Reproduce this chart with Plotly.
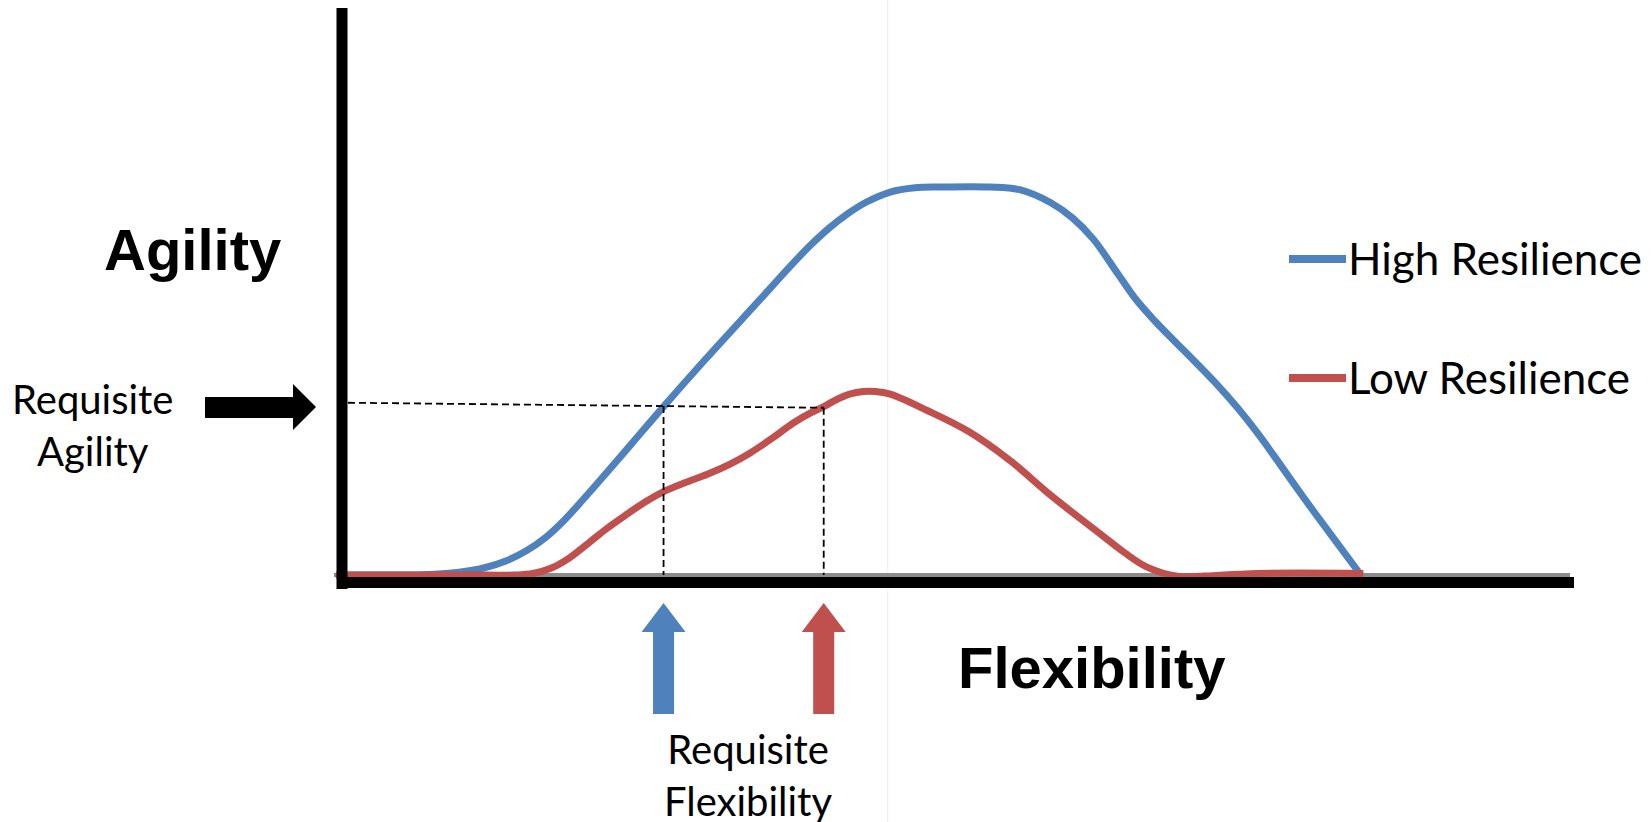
import plotly.graph_objects as go

W, H = 1651, 822

# ---- data (flexibility 0..100, agility 0..100) ----
flex_high = [0, 3.5, 5.5, 7.5, 9.5, 11.5, 13.3, 15.0, 16.5, 18.0, 19.5, 21.0, 23.5, 26.1,
             29.5, 33.9, 36.3, 38.0, 39.5, 41.0, 42.5, 44.5, 46.5, 48.5, 52.6, 55.0,
             57.5, 59.3, 61.0, 63.0, 64.5, 66.0, 67.5, 69.1, 70.9, 72.6, 74.3, 75.9,
             77.5, 79.1, 80.9, 82.7]
agility_high = [0, 0, 0, 0.2, 0.7, 1.8, 3.6, 6.3, 9.6, 14.0, 19.2, 24.6, 33.8, 43.4,
                55.6, 70.9, 79.3, 84.9, 89.3, 93.0, 96.0, 98.7, 99.8, 100, 100, 99.3,
                96.0, 92.0, 86.5, 77.5, 70.8, 65.4, 60.5, 55.4, 49.5, 43.4, 36.6, 29.6,
                22.4, 15.4, 7.7, 0]

flex_low = [-0.5, 5, 10, 14.0, 15.5, 17.0, 18.5, 20.0, 21.5, 23.1, 24.6, 26.1, 28.0, 29.9,
            31.5, 33.1, 34.9, 36.6, 38.0, 39.1, 40.2, 41.2, 42.3, 43.3, 44.5, 47.5,
            50.9, 54.3, 57.5, 61.5, 63.5, 65.3, 67.8, 71.0, 74.2, 82.9]
agility_low = [0, 0, 0, 0, 0.4, 1.8, 4.5, 8.2, 12.0, 15.6, 18.8, 21.5, 24.0, 26.3,
               28.6, 31.4, 35.2, 39.1, 41.7, 43.4, 45.3, 46.6, 47.3, 47.3, 46.6, 42.4,
               36.9, 29.3, 20.6, 10.7, 5.8, 2.1, -0.3, -0.1, 0.4, 0.4]

requisite_agility_start = 44.4
requisite_agility_end = 43.1
requisite_flex_high = 26.1
requisite_flex_low = 39.1
divider_x = 44.3

BLUE = "#4F81BD"
RED = "#C0504D"

# ---- pixel <-> data mapping (layout) ----
X0_PX, X100_PX = 342.0, 1574.0
Y0_PX, Y100_PX = 575.0, 187.0


def px2x(p):
    return (p - X0_PX) / (X100_PX - X0_PX) * 100


def py2y(p):
    return (Y0_PX - p) / (Y0_PX - Y100_PX) * 100


fig = go.Figure()

shapes = []
# faint divider
shapes.append(dict(type="line", xref="x", yref="paper", x0=divider_x, x1=divider_x, y0=0, y1=1,
                   line=dict(color="#ececec", width=1), layer="below"))
# gray baseline
shapes.append(dict(type="line", xref="x", yref="y", x0=px2x(334), x1=px2x(1570), y0=0, y1=0,
                   line=dict(color="#8c8c8c", width=4), layer="below"))
# dashed guides
DASH = dict(color="black", width=1.8, dash="7px,4px")
xs = px2x(348)
shapes.append(dict(type="line", xref="x", yref="y", x0=xs, x1=requisite_flex_low,
                   y0=requisite_agility_start, y1=requisite_agility_end, line=DASH))
yb = requisite_agility_start + (requisite_agility_end - requisite_agility_start) * \
    (requisite_flex_high - xs) / (requisite_flex_low - xs)
shapes.append(dict(type="line", xref="x", yref="y", x0=requisite_flex_high, x1=requisite_flex_high,
                   y0=yb, y1=0, line=DASH))
shapes.append(dict(type="line", xref="x", yref="y", x0=requisite_flex_low, x1=requisite_flex_low,
                   y0=requisite_agility_end, y1=0, line=DASH))


def up_arrow(xc, color):
    cx = X0_PX + xc / 100 * (X100_PX - X0_PX)
    sw, hw = 10.5, 22
    tip, base, bottom = 603, 632, 714
    pts = [(cx - sw, bottom), (cx - sw, base), (cx - hw, base), (cx, tip), (cx + hw, base),
           (cx + sw, base), (cx + sw, bottom)]
    path = "M " + " L ".join(f"{px2x(a):.4f},{py2y(b):.4f}" for a, b in pts) + " Z"
    return dict(type="path", xref="x", yref="y", path=path, fillcolor=color,
                line=dict(width=0))


shapes.append(up_arrow(requisite_flex_high, BLUE))
shapes.append(up_arrow(requisite_flex_low, RED))

# black right arrow
rpts = [(205, 397), (293, 397), (293, 384), (316, 407), (293, 430), (293, 418), (205, 418)]
shapes.append(dict(type="path", xref="x", yref="y",
                   path="M " + " L ".join(f"{px2x(a):.4f},{py2y(b):.4f}" for a, b in rpts) + " Z",
                   fillcolor="black", line=dict(width=0)))

# traces
fig.add_trace(go.Scatter(x=flex_high, y=agility_high, mode="lines", name="High Resilience",
                         line=dict(color=BLUE, width=7, shape="spline", smoothing=1.0),
                         showlegend=False))
fig.add_trace(go.Scatter(x=flex_low, y=agility_low, mode="lines", name="Low Resilience",
                         line=dict(color=RED, width=7, shape="spline", smoothing=1.0),
                         showlegend=False))

# axes (thick black)
shapes.append(dict(type="line", xref="x", yref="y", x0=0, x1=0, y0=py2y(8), y1=py2y(589),
                   line=dict(color="black", width=11), layer="above"))
shapes.append(dict(type="line", xref="x", yref="y", x0=px2x(337), x1=100, y0=py2y(582.5), y1=py2y(582.5),
                   line=dict(color="black", width=11), layer="above"))

# legend samples
shapes.append(dict(type="line", xref="x", yref="y", x0=px2x(1289), x1=px2x(1346), y0=py2y(259), y1=py2y(259),
                   line=dict(color=BLUE, width=8)))
shapes.append(dict(type="line", xref="x", yref="y", x0=px2x(1289), x1=px2x(1346), y0=py2y(378), y1=py2y(378),
                   line=dict(color=RED, width=8)))

REG = "Lato, Calibri, Carlito, sans-serif"
BOLD = "Liberation Sans, Arial, sans-serif"


def ann(text, xp, yp, size, family, xanchor="center", bold=False):
    return dict(text=(f"<b>{text}</b>" if bold else text), xref="paper", yref="paper",
                x=xp / W, y=1 - yp / H, xanchor=xanchor, yanchor="middle", showarrow=False,
                font=dict(family=family, size=size, color="black"))


annotations = [
    ann("Agility", 192, 249, 58, BOLD, bold=True),
    ann("Flexibility", 1092, 667, 58, BOLD, bold=True),
    ann("Requisite<br>Agility", 92, 425, 40, REG),
    ann("Requisite<br>Flexibility", 748, 775, 40, REG),
    ann("High Resilience", 1346, 258, 44, REG, xanchor="left"),
    ann("Low Resilience", 1346, 377, 44, REG, xanchor="left"),
]

fig.update_layout(
    width=W, height=H, autosize=False,
    margin=dict(l=0, r=0, t=0, b=0, pad=0),
    paper_bgcolor="white", plot_bgcolor="white",
    xaxis=dict(range=[px2x(0), px2x(W)], visible=False, fixedrange=True),
    yaxis=dict(range=[py2y(H), py2y(0)], visible=False, fixedrange=True),
    shapes=shapes, annotations=annotations, showlegend=False,
)

fig.write_html("out.html", config={"displayModeBar": False},
               post_script="document.body.style.margin='0';document.body.style.overflow='hidden';")
